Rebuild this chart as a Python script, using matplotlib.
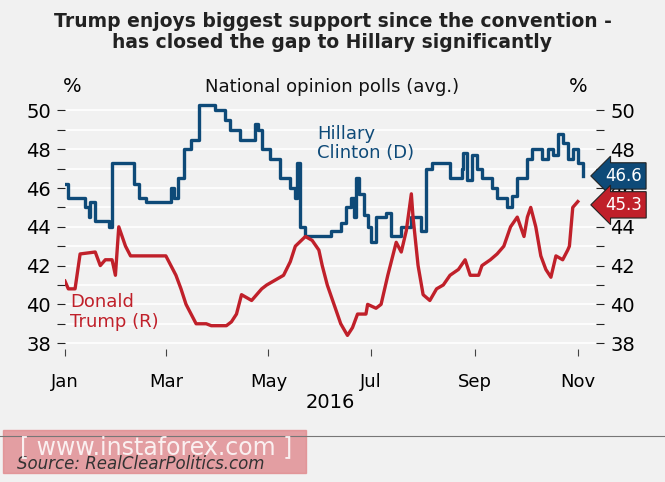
import matplotlib
matplotlib.use("Agg")
import matplotlib.pyplot as plt
from matplotlib.patches import Rectangle

clinton_days = [0,2,9,12,14,15,18,24,26,28,30,39,41,44,48,61,63,65,67,71,75,80,83,89,95,98,104,113,115,117,122,128,134,137,138,140,143,158,164,167,170,172,173,175,178,180,182,185,191,194,200,206,212,215,218,227,229,236,237,239,242,245,248,254,257,263,266,269,275,278,284,287,290,293,296,299,302,305,308]
clinton_vals = [46.2,45.5,45.5,45,44.5,45.3,44.3,44.3,44,47.3,47.3,47.3,46.2,45.5,45.3,45.3,46,45.5,46.5,48,48.5,50.3,50.3,50,49.5,49,48.5,49.3,49,48,47.5,46.5,46,45.5,47.3,44,43.5,43.8,44.2,45,45.5,44.5,46.5,45.7,44.6,44,43.2,44.5,44.7,43.5,44,44.5,43.8,47,47.3,47.3,46.5,47,47.8,46.4,47.7,47,46.5,46,45.5,45,45.6,46.5,47.5,48,47.5,48,47.7,48.8,48.3,47.5,48,47.3,46.6]
trump_days = [0,2,6,9,18,21,24,28,30,32,36,39,60,63,66,69,72,75,78,84,87,96,99,102,105,111,117,120,126,130,134,137,143,147,151,153,156,160,164,168,171,174,179,180,185,188,192,197,200,203,206,207,210,213,217,221,225,229,234,238,241,246,248,253,257,261,265,269,273,275,277,280,283,286,289,292,296,299,300,302,305]
trump_vals = [41.2,40.8,40.8,42.6,42.7,42,42.3,42.3,41.5,44,43,42.5,42.5,42,41.5,40.8,40,39.5,39,39,38.9,38.9,39.1,39.5,40.5,40.2,40.8,41,41.3,41.5,42.2,43,43.5,43.3,42.8,42,41,40,39,38.4,38.8,39.5,39.5,40,39.8,40,41.5,43.2,42.7,43.8,45.7,44.5,42,40.5,40.2,40.8,41,41.5,41.8,42.3,41.5,41.5,42,42.3,42.6,43,44,44.5,43.5,44.5,45,44,42.5,41.8,41.4,42.5,42.3,42.8,43,45,45.3]
month_days = [0,60,121,182,244,305]
month_labels = ["Jan","Mar","May","Jul","Sep","Nov"]
yticks = [38,40,42,44,46,48,50]

BG = "#f1f1f1"
BLUE = "#0e4a78"
RED = "#c0202a"
fig = plt.figure(figsize=(6.65,4.82), dpi=100, facecolor=BG)
ax = fig.add_axes([0.0977, 0.276, 0.799, 0.519])
ax.set_facecolor(BG)
ax.set_xlim(0, 316)
ax.set_ylim(37.7, 50.6)
for v in range(38, 51):
    ax.axhline(v, color="white", lw=1.2, zorder=0)
ax.plot(clinton_days, clinton_vals, color=BLUE, lw=2.4, drawstyle="steps-post", zorder=3)
ax.plot(trump_days, trump_vals, color=RED, lw=2.4, zorder=3)
for s in ax.spines.values():
    s.set_visible(False)
ax.set_yticks(range(38, 51))
ax.set_yticklabels([str(v) if v in yticks else "" for v in range(38, 51)])
ax.tick_params(axis="y", which="both", left=True, right=True, labelleft=True, labelright=True,
               length=6, color="#222222", labelsize=14, pad=4)
ax.set_xticks(month_days)
ax.set_xticklabels(month_labels)
ax.tick_params(axis="x", length=5, color="#444444", labelsize=13, pad=12)
ax.set_xlabel("2016", fontsize=14, labelpad=2)

fig.text(0.5, 0.975, "Trump enjoys biggest support since the convention -\nhas closed the gap to Hillary significantly",
         ha="center", va="top", fontsize=13.5, fontweight="bold", color="#222222", linespacing=1.15)
fig.text(0.5, 0.81, "National opinion polls (avg.)", ha="center", fontsize=13, color="#111111")
fig.text(0.095, 0.81, "%", ha="left", fontsize=14)
fig.text(0.855, 0.81, "%", ha="left", fontsize=14)
ax.text(150, 48.3, "Hillary\nClinton (D)", color=BLUE, fontsize=13, ha="left", va="center", linespacing=1.1)
ax.text(3, 39.6, "Donald\nTrump (R)", color=RED, fontsize=13, ha="left", va="center", linespacing=1.1)
for val, col, yf in [(clinton_vals[-1], BLUE, 0.635), (trump_vals[-1], RED, 0.575)]:
    fig.text(0.91, yf, f"{val}", ha="left", va="center", color="white", fontsize=12, zorder=6,
             bbox=dict(boxstyle="larrow,pad=0.25", fc=col, ec="#222222", lw=0.8))
fig.add_artist(plt.Line2D([0, 1], [0.095, 0.095], color="#777777", lw=0.8))
fig.add_artist(Rectangle((0.005, 0.018), 0.455, 0.09, color="#e08a8e", alpha=0.8))
fig.text(0.025, 0.028, "Source: RealClearPolitics.com", fontsize=12, style="italic", color="#333333")
fig.text(0.03, 0.058, "[ www.instaforex.com ]", fontsize=17, color="white", alpha=0.85)
fig.savefig("out.png", dpi=100, facecolor=BG)
